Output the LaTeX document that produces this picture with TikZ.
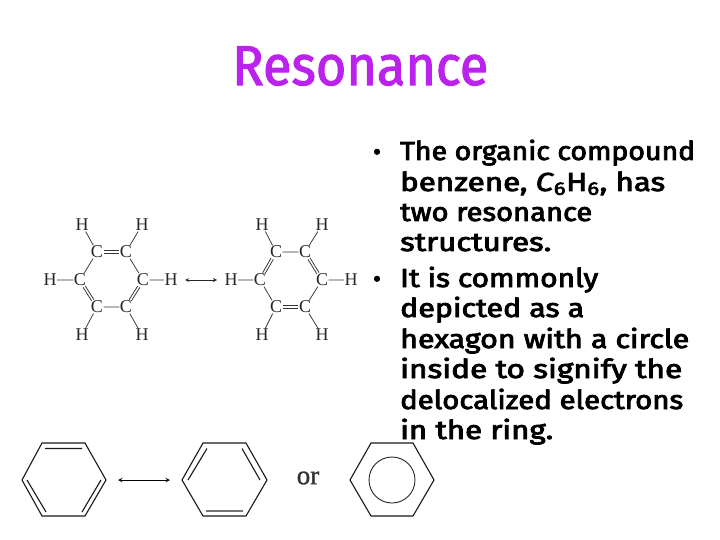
\documentclass[tikz,border=0pt]{standalone}
\usepackage{graphicx}
\usepackage{fontspec}
\setmainfont{Liberation Serif}
\newfontfamily\comic[FakeBold=3]{Fira Sans}
\newfontfamily\comict[FakeBold=2]{Fira Sans}
\newfontfamily\orfont[FakeBold=1]{Liberation Serif}
\definecolor{titlepurple}{HTML}{BC22EE}
\newcommand{\fitw}[2]{\resizebox{#1pt}{\height}{\strut #2}}
\newcommand{\dbond}[4]{%
  \draw[bond,transform canvas={shift={(#3pt,#4pt)}}] (#1)--(#2);
  \draw[bond,transform canvas={shift={(-#3pt,-#4pt)}}] (#1)--(#2);}
\tikzset{
  atom/.style={font=\fontsize{18}{18}\selectfont,text=black!85,inner sep=0.4pt},
  bond/.style={draw=black!80,line width=0.75pt},
  hexl/.style={draw=black!90,line width=1.1pt,line join=miter},
  inner/.style={draw=black!90,line width=1.1pt},
  innerg/.style={draw=black!55,line width=1.1pt},
  arr/.style={draw=black!85,line width=0.8pt,<->,>=stealth},
  body/.style={font=\comic\fontsize{26}{26}\selectfont,anchor=base west,inner sep=0pt},
  bullet/.style={font=\comic\fontsize{24}{24}\selectfont,anchor=base,inner sep=0pt}
}
\begin{document}
\begin{tikzpicture}[x=1pt,y=-1pt]
\useasboundingbox (0,0) rectangle (720,540);
\node[font=\comict\fontsize{56}{56}\selectfont,text=titlepurple,anchor=base west,inner sep=0pt] (title) at (232,85) {\fitw{256}{Resonance}};
% molecule 1
\foreach \n/\x/\y in {ca/97/252,cb/126/252,cc/143/280,cd/126/307,ce/97/307,cf/80/280}
  \node[atom] (\n) at (\x,\y) {C};
\foreach \n/\x/\y in {ha/82/225,hb/142/225,hc/171/280,hd/142/335,he/82/335,hf/50/280}
  \node[atom] (\n) at (\x,\y) {H};
\dbond{ca}{cb}{0}{1.3}
\dbond{cc}{cd}{1.1}{-0.65}
\dbond{ce}{cf}{1.1}{0.65}
\draw[bond] (cb)--(cc) (cd)--(ce) (cf)--(ca);
\draw[bond] (ca)--(ha) (cb)--(hb) (cc)--(hc) (cd)--(hd) (ce)--(he) (cf)--(hf);
\coordinate (r1) at (185,280);
\coordinate (r2) at (217,280);
\draw[arr] (r1)--(r2);
% molecule 2
\foreach \n/\x/\y in {pa/276/252,pb/305/252,pc/322/280,pd/305/307,pe/276/307,pf/260/280}
  \node[atom] (\n) at (\x,\y) {C};
\foreach \n/\x/\y in {qa/262/225,qb/322/225,qc/351/280,qd/322/335,qe/262/335,qf/231/280}
  \node[atom] (\n) at (\x,\y) {H};
\dbond{pb}{pc}{1.1}{0.65}
\dbond{pd}{pe}{0}{1.3}
\dbond{pf}{pa}{1.1}{-0.65}
\draw[bond] (pa)--(pb) (pc)--(pd) (pe)--(pf);
\draw[bond] (pa)--(qa) (pb)--(qb) (pc)--(qc) (pd)--(qd) (pe)--(qe) (pf)--(qf);
% hexagon 1
\foreach \n/\x/\y in {a1/42/443,a2/85/443,a3/106/480,a4/85/516,a5/42/516,a6/22/480,
  i1/45/448.5,i2/82/448.5,i3/27/480,i4/46/512,i5/101/480,i6/82/512}
  \coordinate (\n) at (\x,\y);
\draw[hexl] (a1)--(a2)--(a3)--(a4)--(a5)--(a6)--cycle;
\draw[inner] (i1)--(i2) (i3)--(i4) (i5)--(i6);
\coordinate (s1) at (118,480);
\coordinate (s2) at (170,480);
\draw[draw=black,line width=1pt,<->,>=stealth] (s1)--(s2);
% hexagon 2
\foreach \n/\x/\y in {b1/203/443,b2/246/443,b3/267/480,b4/246/516,b5/203/516,b6/182/480,
  j1/207/448.5,j2/188/480,j3/242/448.5,j4/260/480,j5/206/511,j6/243/511}
  \coordinate (\n) at (\x,\y);
\draw[hexl] (b1)--(b2)--(b3)--(b4)--(b5)--(b6)--cycle;
\draw[inner] (j1)--(j2) (j3)--(j4);
\draw[innerg] (j5)--(j6);
\node[font=\orfont\fontsize{27}{27}\selectfont,text=black!80,inner sep=0pt] (or) at (308,478) {or};
% hexagon 3
\foreach \n/\x/\y in {c1/371/443,c2/413/443,c3/434/480,c4/413/516,c5/371/516,c6/350/480}
  \coordinate (\n) at (\x,\y);
\draw[hexl] (c1)--(c2)--(c3)--(c4)--(c5)--(c6)--cycle;
\node[draw=black!85,line width=0.9pt,circle,minimum size=46pt,inner sep=0pt] (ring) at (392,480) {};
% text
\node[bullet] (b1t) at (377,160) {•};
\node[body] (t1) at (400,160) {\fitw{295}{The organic compound}};
\node[body] (t2) at (400,191) {\fitw{265}{benzene, \textit{C}\textsubscript{6}H\textsubscript{6}, has}};
\node[body] (t3) at (400,221) {\fitw{192}{two resonance}};
\node[body] (t4) at (400,251) {\fitw{151}{structures.}};
\node[bullet] (b2t) at (377,287) {•};
\node[body] (t5) at (400,287) {\fitw{198}{It is commonly}};
\node[body] (t6) at (400,317) {\fitw{184}{depicted as a}};
\node[body] (t7) at (400,348) {\fitw{289}{hexagon with a circle}};
\node[body] (t8) at (400,378) {\fitw{282}{inside to signify the}};
\node[body] (t9) at (400,409) {\fitw{283}{delocalized electrons}};
\node[body] (t10) at (400,439) {\fitw{153}{in the ring.}};
\end{tikzpicture}
\end{document}
